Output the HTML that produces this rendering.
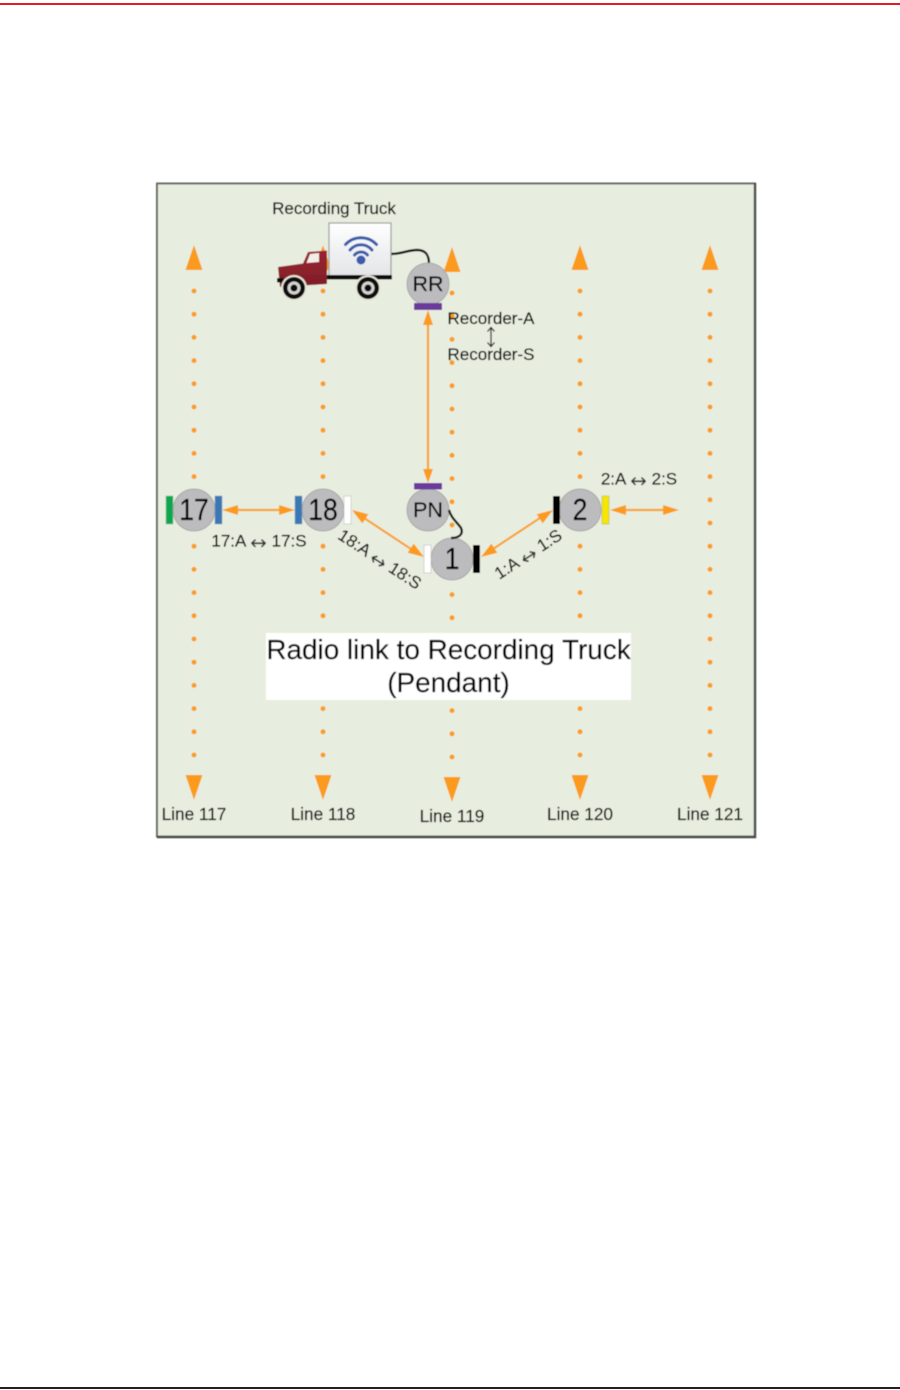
<!DOCTYPE html>
<html>
<head>
<meta charset="utf-8">
<style>
html,body{margin:0;padding:0;background:#fff;width:900px;height:1390px;overflow:hidden}
svg{display:block;position:absolute;left:0;top:0}
text{font-family:"Liberation Sans",sans-serif;fill:#000;stroke:#000;stroke-width:.22;text-anchor:middle}
.ar{font-family:"DejaVu Sans",sans-serif;font-size:20px;stroke:none;fill:#333}
</style>
</head>
<body>
<svg width="900" height="1390" viewBox="0 0 900 1390" xmlns="http://www.w3.org/2000/svg">
<defs>
<linearGradient id="box" x1="0" y1="0" x2="0" y2="1"><stop offset="0" stop-color="#ffffff"/><stop offset="1" stop-color="#e2e4e6"/></linearGradient>
<linearGradient id="cab" x1="0" y1="0" x2="0" y2="1"><stop offset="0" stop-color="#9a2532"/><stop offset="1" stop-color="#7f1d26"/></linearGradient>
<filter id="soft" x="-2%" y="-2%" width="104%" height="104%"><feGaussianBlur stdDeviation="0.4"/></filter>
</defs>

<rect x="0" y="3" width="900" height="2" fill="#e31b23"/>
<rect x="0" y="1387" width="900" height="2" fill="#231f20"/>

<g filter="url(#soft)">
<!-- panel -->
<rect x="157" y="183.500" width="598" height="653" fill="#e8eedf" stroke="#666a64" stroke-width="2"/>
<path d="M157,837 H755 V183" fill="none" stroke="#4a4b48" stroke-width="2.400"/>

<!-- dotted lines -->
<g stroke="#fb9b21" stroke-width="5" stroke-linecap="round" stroke-dasharray="0 23.200" fill="none">
<line x1="194" y1="291" x2="194" y2="756"/>
<line x1="323" y1="291" x2="323" y2="756"/>
<line x1="452" y1="293" x2="452" y2="758"/>
<line x1="580" y1="291" x2="580" y2="756"/>
<line x1="710" y1="291" x2="710" y2="756"/>
</g>

<!-- line-end arrowheads -->
<g fill="#fb9a1e">
<polygon points="194,245 185.500,270 202.500,270"/>
<polygon points="323,245 314.500,270 331.500,270"/>
<polygon points="452,247 443.500,272 460.500,272"/>
<polygon points="580,245 571.500,270 588.500,270"/>
<polygon points="710,245 701.500,270 718.500,270"/>
<polygon points="194,800 185.500,775 202.500,775"/>
<polygon points="323,800 314.500,775 331.500,775"/>
<polygon points="452,802 443.500,777 460.500,777"/>
<polygon points="580,800 571.500,775 588.500,775"/>
<polygon points="710,800 701.500,775 718.500,775"/>
</g>

<!-- white label -->
<rect x="266" y="633" width="365" height="67" fill="#fff"/>
<text x="448.500" y="659" font-size="27.900">Radio link to Recording Truck</text>
<text x="448.500" y="692" font-size="27.900">(Pendant)</text>

<!-- connectors -->
<g stroke="#f9a12c" stroke-width="2.200" fill="none">
<line x1="232" y1="510" x2="286" y2="510"/>
<line x1="361" y1="516" x2="414" y2="551"/>
<line x1="490" y1="551" x2="543" y2="516"/>
<line x1="619" y1="510" x2="668" y2="510"/>
<line x1="428" y1="320" x2="428" y2="473"/>
</g>
<g fill="#fb9a1e">
<polygon points="222,510 238,505 238,515"/>
<polygon points="295,510 279,505 279,515"/>
<polygon points="352,510 362.300,523.400 368.300,514.200"/>
<polygon points="424,557 407.700,552.800 413.700,543.600"/>
<polygon points="481,557 497.300,552.800 491.300,543.600"/>
<polygon points="553,510 542.700,523.400 536.700,514.200"/>
<polygon points="610,510 626,505 626,515"/>
<polygon points="679,510 663,505 663,515"/>
<polygon points="428,310 423,325 433,325"/>
<polygon points="428,483 423,469 433,469"/>
</g>

<!-- cables -->
<path d="M391,254 C402,254 408,250 417,250 C425,250 429,254 429,264" stroke="#111" stroke-width="2.400" fill="none"/>

<!-- nodes -->
<g fill="#bcbcbe" stroke="#a8a8a8" stroke-width="1">
<circle cx="194" cy="510" r="21"/>
<circle cx="323" cy="510" r="21"/>
<circle cx="428" cy="510" r="21"/>
<circle cx="428" cy="284" r="21"/>
<circle cx="452" cy="559" r="21"/>
<circle cx="580" cy="510" r="21"/>
</g>
<path d="M449,510 C451,518 457,522 461,528 C464,535 458,538 451,538" stroke="#111" stroke-width="2.400" fill="none"/>

<!-- terminals -->
<rect x="166" y="496" width="7" height="28" fill="#0aa650" stroke="#7ab88c" stroke-width="0.500"/>
<rect x="215" y="496" width="7" height="28" fill="#3b77b5" stroke="#7a9cbc" stroke-width="0.500"/>
<rect x="295" y="496" width="7" height="28" fill="#3b77b5" stroke="#7a9cbc" stroke-width="0.500"/>
<rect x="344" y="496" width="7" height="28" fill="#fff" stroke="#b0b0b0" stroke-width="0.500"/>
<rect x="424" y="545" width="7" height="28" fill="#fff" stroke="#b0b0b0" stroke-width="0.500"/>
<rect x="473" y="545" width="7" height="28" fill="#000"/>
<rect x="553" y="496" width="7" height="28" fill="#000"/>
<rect x="602" y="496" width="7" height="28" fill="#f6e600" stroke="#a8a838" stroke-width="0.500"/>
<rect x="414" y="483" width="28" height="6.500" fill="#6a3a9c"/>
<rect x="414" y="303" width="28" height="7" fill="#6a3a9c"/>

<!-- node labels -->
<text font-size="28" transform="translate(194 520) scale(.95 1.1)">17</text>
<text font-size="28" transform="translate(323 520) scale(.95 1.1)">18</text>
<text font-size="28" transform="translate(452 569) scale(.95 1.1)">1</text>
<text font-size="28" transform="translate(580 520) scale(.95 1.1)">2</text>
<text x="428" y="517" font-size="21.500">PN</text>
<text x="428" y="291" font-size="21.500">RR</text>

<!-- truck -->
<rect x="329" y="223" width="62" height="54" fill="url(#box)" stroke="#9a9c9a" stroke-width="1.200"/>
<polygon points="278,267 303,263.500 308,252 327,250.500 327,284 280,287" fill="url(#cab)"/>
<polygon points="306.500,263 310,254 319,253 319,262" fill="#f2f0e6"/>
<rect x="327" y="275" width="65" height="4.500" fill="#111"/>
<rect x="277" y="278" width="7" height="4.500" fill="#111"/>
<g>
<circle cx="294" cy="288" r="13" fill="#e8e6d8"/>
<circle cx="294" cy="288" r="11" fill="#111"/>
<circle cx="294" cy="288" r="6.500" fill="#d4d4d0"/>
<circle cx="294" cy="288" r="3.500" fill="#111"/>
<circle cx="368" cy="288" r="13" fill="#e8e6d8"/>
<circle cx="368" cy="288" r="11" fill="#111"/>
<circle cx="368" cy="288" r="6.500" fill="#d4d4d0"/>
<circle cx="368" cy="288" r="3.500" fill="#111"/>
</g>
<g fill="none" stroke="#3a5cab" stroke-width="3" stroke-linecap="round">
<path d="M345.500,244.500 C354,235.500 368,235.500 376.500,244.500"/>
<path d="M350,250 C356,243 366,243 372,250"/>
<path d="M354.500,255 C358,251 364,251 367.500,255"/>
</g>
<circle cx="361" cy="260" r="4.500" fill="#3a5cab"/>

<!-- labels -->
<text x="334" y="214" font-size="17">Recording Truck</text>
<text x="491" y="324" font-size="17">Recorder-A</text>
<text x="491" y="360" font-size="17">Recorder-S</text>
<g stroke="#222" stroke-width="1.300" fill="none">
<line x1="491" y1="328" x2="491" y2="346"/>
<path d="M487.500,331.500 L491,327.500 L494.500,331.500"/>
<path d="M487.500,342.500 L491,346.500 L494.500,342.500"/>
</g>
<text x="259" y="546.500" font-size="17">17:A <tspan class="ar" dy="3">↔</tspan><tspan dy="-3"> 17:S</tspan></text>
<text x="639" y="484.500" font-size="17">2:A <tspan class="ar" dy="3">↔</tspan><tspan dy="-3"> 2:S</tspan></text>
<text x="380" y="565" font-size="17" transform="rotate(33 380 559)">18:A <tspan class="ar" dy="3">↔</tspan><tspan dy="-3"> 18:S</tspan></text>
<text x="528" y="560" font-size="17" transform="rotate(-33 528 554)">1:A <tspan class="ar" dy="3">↔</tspan><tspan dy="-3"> 1:S</tspan></text>
<text x="194" y="820" font-size="17.200">Line 117</text>
<text x="323" y="820" font-size="17.200">Line 118</text>
<text x="452" y="822" font-size="17.200">Line 119</text>
<text x="580" y="820" font-size="17.200">Line 120</text>
<text x="710" y="820" font-size="17.200">Line 121</text>
</g>
</svg>
</body>
</html>
